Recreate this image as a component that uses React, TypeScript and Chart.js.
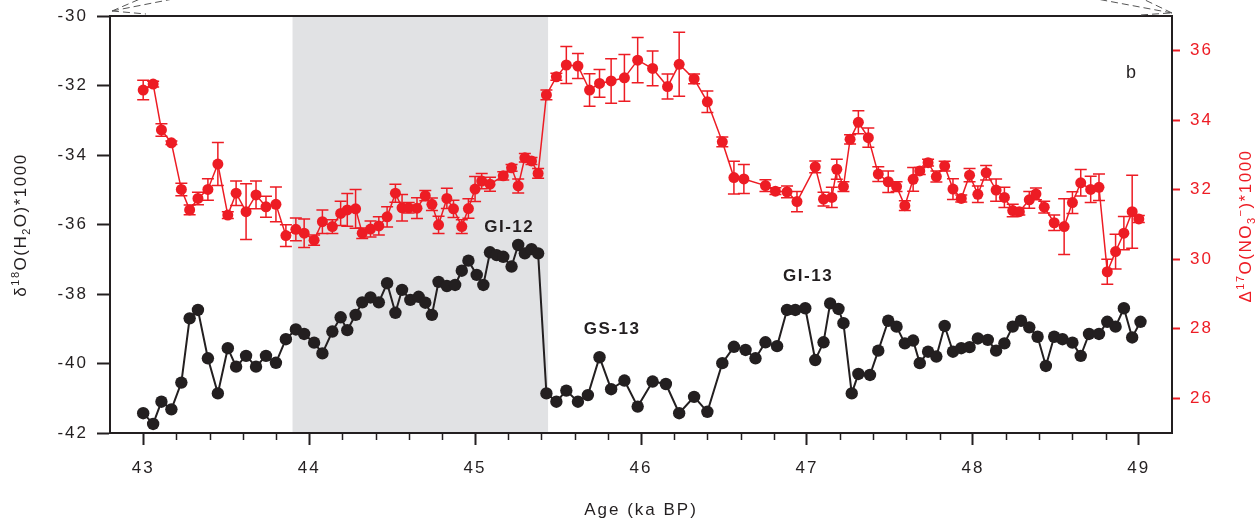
import React, { useEffect, useRef } from "react";
import { Chart, registerables } from "chart.js";

Chart.register(...registerables);

const RED = "#ED1C24";
const INK = "#231F20";
const SHADE = "#E1E2E4";
const FONT = '"Liberation Sans", Arial, Helvetica, sans-serif';

// ---- data ----
const ageTicks = [43, 44, 45, 46, 47, 48, 49];
const leftTicks = [-42, -40, -38, -36, -34, -32, -30];
const rightTicks = [26, 28, 30, 32, 34, 36];
const minorStep = 0.2;
const shadeRange = [43.9, 45.44];

const blackAge = [
  43.0, 43.06, 43.11, 43.17, 43.23, 43.28, 43.33, 43.39, 43.45, 43.51,
  43.56, 43.62, 43.68, 43.74, 43.8, 43.86, 43.92, 43.97, 44.03, 44.08,
  44.14, 44.19, 44.23, 44.28, 44.32, 44.37, 44.42, 44.47, 44.52, 44.56,
  44.61, 44.66, 44.7, 44.74, 44.78, 44.83, 44.88, 44.92, 44.96,
  45.01, 45.05, 45.09, 45.13, 45.17, 45.22, 45.26, 45.3, 45.34, 45.38,
  45.43, 45.49, 45.55, 45.62, 45.68, 45.75, 45.82, 45.9, 45.98, 46.07,
  46.15, 46.23, 46.32, 46.4, 46.49, 46.56, 46.63, 46.69, 46.75, 46.82,
  46.88, 46.93, 46.99,
  47.05, 47.1, 47.14, 47.19, 47.22, 47.27, 47.31, 47.38, 47.43, 47.49,
  47.54, 47.59, 47.64, 47.68, 47.73, 47.78, 47.83, 47.88, 47.93, 47.98,
  48.03, 48.09, 48.14, 48.19, 48.24, 48.29, 48.34, 48.39, 48.44, 48.49,
  48.54, 48.6, 48.65, 48.7, 48.76, 48.81, 48.86, 48.91, 48.96, 49.01,
];
const blackD18O = [
  -41.43, -41.74, -41.1, -41.32, -40.55, -38.7, -38.46, -39.85, -40.86, -39.56,
  -40.09, -39.78, -40.09, -39.78, -39.98, -39.3, -39.02, -39.15, -39.4, -39.71,
  -39.08, -38.67, -39.04, -38.6, -38.24, -38.1, -38.24, -37.69, -38.54, -37.88,
  -38.17, -38.08, -38.25, -38.6, -37.65, -37.77, -37.74, -37.33, -37.04,
  -37.45, -37.74, -36.8, -36.88, -36.93, -37.21, -36.59, -36.83, -36.71, -36.83,
  -40.86, -41.1, -40.78, -41.1, -40.91, -39.82, -40.74, -40.49, -41.24, -40.52,
  -40.59, -41.43, -40.96, -41.39, -39.99, -39.52, -39.61, -39.85, -39.39, -39.5,
  -38.46, -38.46, -38.41,
  -39.9, -39.39, -38.27, -38.43, -38.84, -40.86, -40.3, -40.33, -39.63, -38.77,
  -38.94, -39.42, -39.34, -39.99, -39.66, -39.8, -38.92, -39.66, -39.56, -39.53,
  -39.28, -39.32, -39.63, -39.42, -38.94, -38.77, -38.96, -39.23, -40.07, -39.23,
  -39.3, -39.4, -39.78, -39.15, -39.15, -38.8, -38.94, -38.41, -39.25, -38.8,
];

const redAge = [
  43.0, 43.06, 43.11, 43.17, 43.23, 43.28, 43.33, 43.39, 43.45, 43.51,
  43.56, 43.62, 43.68, 43.74, 43.8, 43.86, 43.92, 43.97, 44.03, 44.08,
  44.14, 44.19, 44.23, 44.28, 44.32, 44.37, 44.42, 44.47, 44.52, 44.56,
  44.6, 44.65, 44.7, 44.74, 44.78, 44.83, 44.87, 44.92, 44.96,
  45.0, 45.04, 45.09, 45.17, 45.22, 45.26, 45.3, 45.34, 45.38, 45.43,
  45.49, 45.55, 45.62, 45.69, 45.75, 45.82, 45.9, 45.98, 46.07, 46.16,
  46.23, 46.32, 46.4, 46.49, 46.56, 46.62, 46.75, 46.81, 46.88, 46.94,
  47.05, 47.1, 47.15, 47.18, 47.22, 47.26, 47.31, 47.37, 47.43, 47.49,
  47.54, 47.59, 47.64, 47.68, 47.73, 47.78, 47.83, 47.88, 47.93, 47.98,
  48.03, 48.08, 48.14, 48.19, 48.24, 48.28, 48.34, 48.38, 48.43, 48.49,
  48.55, 48.6, 48.65, 48.71, 48.76, 48.81, 48.86, 48.91, 48.96, 49.0,
];
const redD17O = [
  34.87, 35.04, 33.72, 33.35, 32.01, 31.42, 31.75, 32.01, 32.74, 31.27,
  31.9, 31.37, 31.85, 31.51, 31.58, 30.68, 30.86, 30.75, 30.55, 31.08,
  30.94, 31.32, 31.42, 31.45, 30.75, 30.87, 30.96, 31.22, 31.9, 31.48,
  31.48, 31.47, 31.83, 31.58, 30.99, 31.75, 31.45, 30.94, 31.46,
  32.02, 32.25, 32.16, 32.4, 32.63, 32.11, 32.92, 32.83, 32.47, 34.73,
  35.25, 35.59, 35.56, 34.87, 35.06, 35.13, 35.22, 35.73, 35.49, 34.97,
  35.61, 35.19, 34.53, 33.38, 32.35, 32.31, 32.12, 31.96, 31.94, 31.66,
  32.66, 31.73, 31.78, 32.59, 32.09, 33.45, 33.94, 33.5, 32.45, 32.23,
  32.09, 31.54, 32.3, 32.54, 32.78, 32.38, 32.68, 32.02, 31.75, 32.42,
  31.87, 32.49, 31.99, 31.78, 31.4, 31.37, 31.71, 31.88, 31.5, 31.05,
  30.94, 31.63, 32.2, 32.01, 32.07, 29.64, 30.22, 30.75, 31.37, 31.16,
];
const redErr = [
  0.28, 0.08, 0.18, 0.05, 0.18, 0.14, 0.18, 0.31, 0.62, 0.1,
  0.35, 0.8, 0.4, 0.3, 0.5, 0.31, 0.33, 0.41, 0.15, 0.34,
  0.2, 0.35, 0.47, 0.56, 0.15, 0.23, 0.26, 0.29, 0.26, 0.38,
  0.15, 0.3, 0.15, 0.18, 0.25, 0.29, 0.25, 0.2, 0.28,
  0.36, 0.22, 0.2, 0.12, 0.1, 0.2, 0.12, 0.1, 0.14, 0.14,
  0.1, 0.53, 0.36, 0.47, 0.4, 0.64, 0.67, 0.65, 0.5, 0.36,
  0.92, 0.14, 0.31, 0.14, 0.47, 0.42, 0.17, 0.1, 0.17, 0.29,
  0.17, 0.2, 0.29, 0.29, 0.14, 0.13, 0.33, 0.28, 0.21, 0.31,
  0.14, 0.14, 0.34, 0.1, 0.1, 0.16, 0.14, 0.3, 0.1, 0.19,
  0.24, 0.21, 0.32, 0.29, 0.18, 0.1, 0.24, 0.17, 0.17, 0.22,
  0.8, 0.31, 0.38, 0.38, 0.38, 0.36, 0.5, 0.48, 1.05, 0.1,
];

const eventLabels = ["GI-12", "GS-13", "GI-13"];
const eventAge = [45.206, 45.826, 47.007];
const eventD18O = [-36.07, -39.01, -37.48];
const panelLetter = "b";

type Seg = { t: string; size: number; dy?: number };

const leftTitle: Seg[] = [
  { t: "δ", size: 17 },
  { t: "18", size: 11, dy: -7 },
  { t: "O(H", size: 17 },
  { t: "2", size: 11, dy: 4 },
  { t: "O)*1000", size: 17 },
];
const rightTitle: Seg[] = [
  { t: "Δ", size: 17 },
  { t: "17", size: 11, dy: -7 },
  { t: "O(NO", size: 17 },
  { t: "3", size: 11, dy: 4 },
  { t: "−", size: 11, dy: -7 },
  { t: ")*1000", size: 17 },
];
const bottomTitle: Seg[] = [{ t: "Age (ka BP)", size: 17 }];

function drawRich(
  ctx: CanvasRenderingContext2D,
  segs: Seg[],
  cx: number,
  cy: number,
  rot: number,
  color: string,
  spacing: number
) {
  ctx.save();
  ctx.translate(cx, cy);
  ctx.rotate(rot);
  ctx.fillStyle = color;
  ctx.textAlign = "left";
  ctx.textBaseline = "alphabetic";
  (ctx as any).letterSpacing = spacing + "px";
  let total = 0;
  const widths = segs.map((s) => {
    ctx.font = `${s.size}px ${FONT}`;
    const w = ctx.measureText(s.t).width;
    total += w;
    return w;
  });
  let x = -total / 2;
  segs.forEach((s, i) => {
    ctx.font = `${s.size}px ${FONT}`;
    ctx.fillText(s.t, x, 6 + (s.dy || 0));
    x += widths[i];
  });
  ctx.restore();
}

const decorPlugin = {
  id: "decor",
  beforeDraw(chart: any) {
    const { ctx, chartArea: a, scales } = chart;
    const x = scales.x;
    const x0 = x.getPixelForValue(shadeRange[0]);
    const x1 = x.getPixelForValue(shadeRange[1]);
    ctx.save();
    ctx.fillStyle = SHADE;
    ctx.fillRect(x0, a.top, x1 - x0, a.bottom - a.top);
    ctx.restore();
    (ctx as any).letterSpacing = "2px";
  },
  beforeDatasetsDraw(chart: any) {
    const { ctx, scales } = chart;
    const x = scales.x;
    const y2 = scales.y2;
    ctx.save();
    ctx.strokeStyle = RED;
    ctx.lineWidth = 1.5;
    const cap = 6;
    redAge.forEach((age, i) => {
      const px = x.getPixelForValue(age);
      const yt = y2.getPixelForValue(redD17O[i] + redErr[i]);
      const yb = y2.getPixelForValue(redD17O[i] - redErr[i]);
      ctx.beginPath();
      ctx.moveTo(px, yt);
      ctx.lineTo(px, yb);
      ctx.moveTo(px - cap, yt);
      ctx.lineTo(px + cap, yt);
      ctx.moveTo(px - cap, yb);
      ctx.lineTo(px + cap, yb);
      ctx.stroke();
    });
    ctx.restore();
  },
  afterDraw(chart: any) {
    const { ctx, chartArea: a, scales } = chart;
    const x = scales.x;
    const y = scales.y;
    ctx.save();
    // top frame line
    ctx.strokeStyle = INK;
    ctx.lineWidth = 2;
    ctx.beginPath();
    ctx.moveTo(a.left, a.top);
    ctx.lineTo(a.right + 1, a.top);
    ctx.stroke();
    // minor ticks on x axis
    ctx.lineWidth = 1.5;
    const n = Math.round((x.max - x.min) / minorStep);
    for (let k = 1; k < n; k++) {
      const v = x.min + k * minorStep;
      if (Math.abs(v - Math.round(v)) < 1e-6) continue;
      const px = Math.round(x.getPixelForValue(v)) + 0.5;
      ctx.beginPath();
      ctx.moveTo(px, a.bottom);
      ctx.lineTo(px, a.bottom + 7);
      ctx.stroke();
    }
    // dashed connector lines at top corners
    ctx.strokeStyle = "#555";
    ctx.lineWidth = 1;
    ctx.setLineDash([7, 4]);
    const segs = [
      [a.left + 2, a.top - 5, a.left + 30, a.top - 17],
      [a.left + 2, a.top - 5, a.left + 68, a.top - 18],
      [a.left + 2, a.top - 5, a.left + 36, a.top - 2],
      [a.right, a.top - 3, a.right - 29, a.top - 17],
      [a.right, a.top - 3, a.right - 75, a.top - 17],
      [a.right - 2, a.top - 3, a.right - 32, a.top - 1],
    ];
    segs.forEach(([x1, y1, x2, y2]) => {
      ctx.beginPath();
      ctx.moveTo(x1, y1);
      ctx.lineTo(x2, y2);
      ctx.stroke();
    });
    ctx.setLineDash([]);
    ctx.restore();

    // event labels
    ctx.save();
    (ctx as any).letterSpacing = "1.5px";
    ctx.fillStyle = INK;
    ctx.textAlign = "center";
    ctx.textBaseline = "middle";
    ctx.font = `bold 17px ${FONT}`;
    eventLabels.forEach((t, i) => {
      ctx.fillText(t, x.getPixelForValue(eventAge[i]), y.getPixelForValue(eventD18O[i]));
    });
    ctx.font = `18px ${FONT}`;
    ctx.fillText(panelLetter, x.getPixelForValue(48.958), y.getPixelForValue(-31.64));
    ctx.restore();

    // axis titles
    drawRich(ctx, leftTitle, 20, 225, -Math.PI / 2, INK, 1.5);
    drawRich(ctx, rightTitle, 1245, 226, -Math.PI / 2, RED, 1.5);
    drawRich(ctx, bottomTitle, (a.left + a.right) / 2, 509, 0, INK, 2);
  },
};

export default function App() {
  const ref = useRef<HTMLCanvasElement>(null);
  useEffect(() => {
    if (!ref.current) return;
    const tickFont = { family: FONT, size: 17 };
    const fitV = (w: number) => (s: any) => {
      s.width = w;
      s.paddingTop = 0;
      s.paddingBottom = 0;
    };
    const chart = new Chart(ref.current, {
      type: "line",
      data: {
        datasets: [
          {
            label: "Δ17O(NO3−)",
            data: redAge.map((a, i) => ({ x: a, y: redD17O[i] })),
            yAxisID: "y2",
            borderColor: RED,
            backgroundColor: RED,
            borderWidth: 1.5,
            pointRadius: 5.5,
            pointBackgroundColor: RED,
            pointBorderWidth: 0,
            tension: 0,
          },
          {
            label: "δ18O(H2O)",
            data: blackAge.map((a, i) => ({ x: a, y: blackD18O[i] })),
            yAxisID: "y",
            borderColor: INK,
            backgroundColor: INK,
            borderWidth: 2,
            pointRadius: 6.2,
            pointBackgroundColor: INK,
            pointBorderWidth: 0,
            tension: 0,
          },
        ],
      },
      options: {
        responsive: false,
        animation: false,
        events: [],
        layout: { autoPadding: false, padding: { top: 16, left: 0, right: 0, bottom: 0 } },
        plugins: { legend: { display: false }, tooltip: { enabled: false } },
        scales: {
          x: {
            type: "linear",
            position: "bottom",
            min: 42.8,
            max: 49.2,
            afterBuildTicks: (s: any) => {
              s.ticks = ageTicks.map((v) => ({ value: v }));
            },
            afterFit: (s: any) => {
              s.height = 88;
              s.paddingLeft = 0;
              s.paddingRight = 0;
            },
            grid: { drawOnChartArea: false, drawTicks: true, tickLength: 12, tickWidth: 2, tickColor: INK },
            border: { display: true, color: INK, width: 2 },
            ticks: { autoSkip: false, maxRotation: 0, padding: 13, color: INK, font: tickFont, callback: (v: any) => String(v) },
          },
          y: {
            type: "linear",
            position: "left",
            min: -42,
            max: -30,
            afterBuildTicks: (s: any) => {
              s.ticks = leftTicks.map((v) => ({ value: v }));
            },
            afterFit: fitV(110),
            grid: { drawOnChartArea: false, drawTicks: true, tickLength: 13, tickWidth: 2, tickColor: INK },
            border: { display: true, color: INK, width: 2 },
            ticks: { padding: 9, color: INK, font: tickFont, callback: (v: any) => String(v) },
          },
          y2: {
            type: "linear",
            position: "right",
            min: 25,
            max: 37,
            afterBuildTicks: (s: any) => {
              s.ticks = rightTicks.map((v) => ({ value: v }));
            },
            afterFit: fitV(86),
            grid: { drawOnChartArea: false, drawTicks: true, tickLength: 8, tickWidth: 2, tickColor: RED },
            border: { display: true, color: INK, width: 2 },
            ticks: { padding: 10, color: RED, font: tickFont, callback: (v: any) => String(v) },
          },
        },
      },
      plugins: [decorPlugin],
    });
    return () => chart.destroy();
  }, []);
  return (
    <div style={{ position: "absolute", left: 0, top: 0, width: 1258, height: 521, background: "#fff" }}>
      <canvas ref={ref} width={1258} height={521} style={{ display: "block" }} />
    </div>
  );
}
